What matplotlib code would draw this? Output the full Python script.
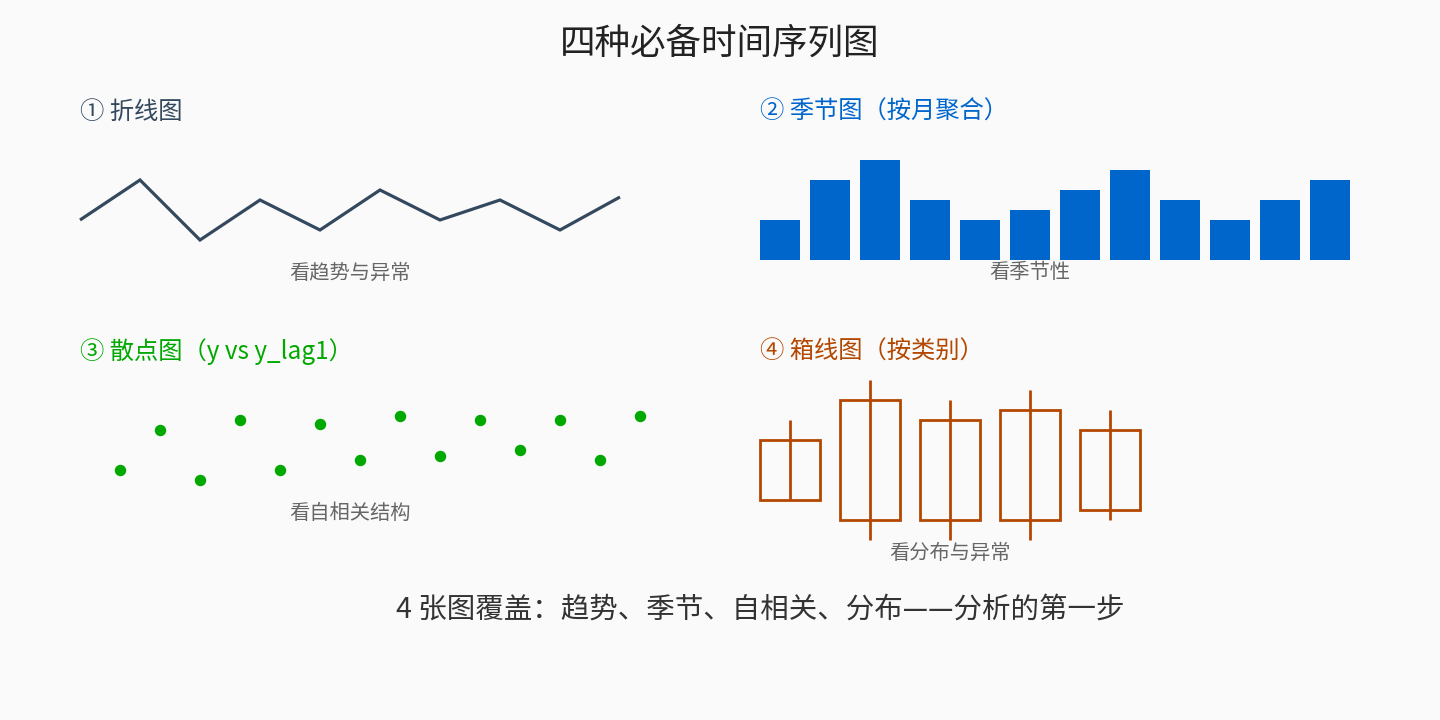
import matplotlib.pyplot as plt
import numpy as np

plt.rcParams['font.family'] = ['Noto Sans CJK SC', 'DejaVu Sans']

# 数据
line_values = [20, 60, 0, 40, 10, 50, 20, 40, 10, 43]
month_values = [40, 80, 100, 60, 40, 50, 70, 90, 60, 40, 60, 80]
lag_values = [30, 70, 20, 80, 30, 76, 40, 84, 44, 80, 50, 80, 40, 84]
box_low = [60, 20, 20, 20, 40]
box_q1 = [60, 40, 40, 40, 50]
box_q3 = [120, 160, 140, 150, 130]
box_high = [140, 180, 160, 170, 150]

titles = ["① 折线图", "② 季节图（按月聚合）", "③ 散点图（y vs y_lag1）", "④ 箱线图（按类别）"]
notes = ["看趋势与异常", "看季节性", "看自相关结构", "看分布与异常"]

BG = "#FAFAFA"
C_LINE = "#34495E"
C_BAR = "#0066CC"
C_DOT = "#00A800"
C_BOX = "#B34700"

W, H = 1440, 720
fig = plt.figure(figsize=(14.4, 7.2), dpi=100, facecolor=BG)


def px_axes(x0, y_top, x1, y_bot):
    # 像素坐标 -> figure 坐标
    ax = fig.add_axes([x0 / W, 1 - y_bot / H, (x1 - x0) / W, (y_bot - y_top) / H])
    ax.set_facecolor("none")
    ax.axis("off")
    return ax


def px_text(x, y, s, **kw):
    fig.text(x / W, 1 - y / H, s, va="center", **kw)


# ① 折线图
ax = px_axes(80, 160, 620, 240)
ax.plot(np.arange(len(line_values)), line_values, color=C_LINE, lw=2.3, clip_on=False,
        solid_joinstyle="miter", solid_capstyle="butt")
ax.set_xlim(0, len(line_values) - 1)
ax.set_ylim(0, 80)

# ② 季节图
ax = px_axes(760, 160, 1350, 260)
ax.bar(np.arange(len(month_values)), month_values, width=0.8, color=C_BAR)
ax.set_xlim(-0.4, len(month_values) - 0.6)
ax.set_ylim(0, 100)

# ③ 散点图
ax = px_axes(120, 400, 640, 500)
ax.scatter(np.arange(len(lag_values)), lag_values, s=68, color=C_DOT, clip_on=False, lw=0)
ax.set_xlim(0, len(lag_values) - 1)
ax.set_ylim(0, 100)

# ④ 箱线图
ax = px_axes(760, 360, 1140, 560)
xb = np.arange(len(box_q1))
ax.vlines(xb, box_low, box_high, color=C_BOX, lw=2)
boxes = ax.bar(xb, np.array(box_q3) - np.array(box_q1), bottom=box_q1, width=0.75,
               fill=False, edgecolor=C_BOX, lw=2)
for b in boxes:
    b.set_clip_on(False)
ax.set_xlim(-0.375, len(box_q1) - 0.625)
ax.set_ylim(0, 200)

# 文字
px_text(720, 44, "四种必备时间序列图", ha="center", fontsize=25.6, color="#222222")
px_text(80, 112, titles[0], ha="left", fontsize=17.5, color=C_LINE)
px_text(760, 112, titles[1], ha="left", fontsize=17.5, color=C_BAR)
px_text(80, 352, titles[2], ha="left", fontsize=17.5, color=C_DOT)
px_text(760, 352, titles[3], ha="left", fontsize=17.5, color=C_BOX)
px_text(350, 273, notes[0], ha="center", fontsize=14.6, color="#666666")
px_text(1030, 272, notes[1], ha="center", fontsize=14.6, color="#666666")
px_text(350, 513, notes[2], ha="center", fontsize=14.6, color="#666666")
px_text(950, 553, notes[3], ha="center", fontsize=14.6, color="#666666")
px_text(760, 610, "4 张图覆盖：趋势、季节、自相关、分布——分析的第一步", ha="center",
        fontsize=20.5, color="#333333")

fig.savefig("out.png", dpi=100, facecolor=BG)
